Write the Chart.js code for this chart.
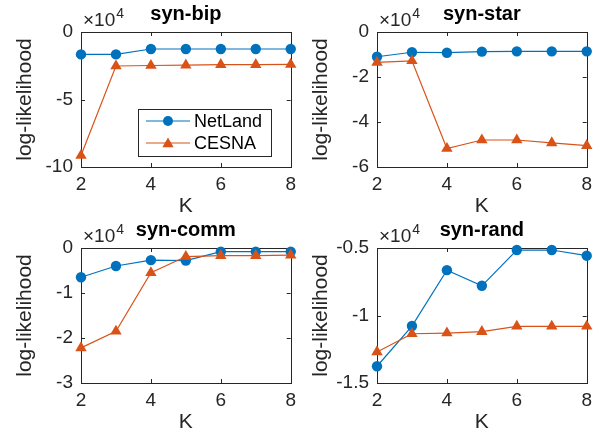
<!DOCTYPE html>
<html>
<head>
<meta charset="utf-8">
<script src="https://cdn.jsdelivr.net/npm/chart.js"></script>
<style>
  html, body { margin: 0; padding: 0; background: #ffffff; }
  #wrap { position: relative; width: 605px; height: 432px; background: #ffffff; overflow: hidden; }
  canvas { position: absolute; }
</style>
</head>
<body>
<div id="wrap">
  <canvas id="c1" width="302" height="216" style="left:0px;top:0px"></canvas>
  <canvas id="c2" width="302" height="216" style="left:296px;top:0px"></canvas>
  <canvas id="c3" width="302" height="216" style="left:0px;top:216px"></canvas>
  <canvas id="c4" width="302" height="216" style="left:296px;top:216px"></canvas>
</div>
<script>
// ---- data (log-likelihood values) ----
const K = [2, 3, 4, 5, 6, 7, 8];
const seriesNames = ['NetLand', 'CESNA'];
const panelTitles = ['syn-bip', 'syn-star', 'syn-comm', 'syn-rand'];

const bipNetLand  = [-16600, -16600, -12600, -12600, -12600, -12600, -12600];
const bipCESNA    = [-91500, -25200, -24800, -24600, -24200, -24200, -24000];

const starNetLand = [-11000, -9000, -9200, -8700, -8600, -8600, -8600];
const starCESNA   = [-13500, -12800, -51800, -48000, -48000, -49300, -50500];

const commNetLand = [-6500, -4000, -2700, -2800, -800, -800, -800];
const commCESNA   = [-22200, -18500, -5500, -1900, -1700, -1700, -1600];

const randNetLand = [-13760, -10780, -6640, -7800, -5150, -5150, -5570];
const randCESNA   = [-12700, -11350, -11300, -11200, -10800, -10800, -10800];

const xTicks = [2, 4, 6, 8];
const yTicksBip  = [0, -50000, -100000];
const yTicksStar = [0, -20000, -40000, -60000];
const yTicksComm = [0, -10000, -20000, -30000];
const yTicksRand = [-5000, -10000, -15000];

// ---- styling ----
const FONT = "'Liberation Sans', Arial, Helvetica, sans-serif";
const AXC = '#262626';
const BLUE = '#0072BD';
const ORANGE = '#D95319';

function fmtTick(v) {
  const t = Math.round(v / 1e4 * 100) / 100;
  return String(t);
}

function drawTri(ctx, x, y, r) {
  ctx.beginPath();
  let rad = 0;
  ctx.moveTo(x + Math.sin(rad) * r, y - Math.cos(rad) * r);
  rad += 2 * Math.PI / 3;
  ctx.lineTo(x + Math.sin(rad) * r, y - Math.cos(rad) * r);
  rad += 2 * Math.PI / 3;
  ctx.lineTo(x + Math.sin(rad) * r, y - Math.cos(rad) * r);
  ctx.closePath();
  ctx.fill();
}

const boxPlugin = {
  id: 'matlabBox',
  beforeDatasetsDraw(chart) {
    const ctx = chart.ctx;
    const a = chart.chartArea;
    const xs = chart.scales.x, ys = chart.scales.y;
    ctx.save();
    ctx.strokeStyle = AXC;
    ctx.lineWidth = 1;
    ctx.strokeRect(Math.round(a.left) + 0.5, Math.round(a.top) + 0.5,
                   Math.round(a.right - a.left), Math.round(a.bottom - a.top));
    const tl = 4;
    ctx.beginPath();
    xs.ticks.forEach(t => {
      const px = Math.round(xs.getPixelForValue(t.value)) + 0.5;
      ctx.moveTo(px, a.bottom); ctx.lineTo(px, a.bottom - tl);
      ctx.moveTo(px, a.top); ctx.lineTo(px, a.top + tl);
    });
    ys.ticks.forEach(t => {
      const py = Math.round(ys.getPixelForValue(t.value)) + 0.5;
      ctx.moveTo(a.left, py); ctx.lineTo(a.left + tl, py);
      ctx.moveTo(a.right, py); ctx.lineTo(a.right - tl, py);
    });
    ctx.stroke();
    ctx.restore();
  },
  afterDraw(chart, args, opts) {
    const ctx = chart.ctx;
    const a = chart.chartArea;
    ctx.save();
    // title
    ctx.fillStyle = '#000000';
    ctx.font = 'bold 20px ' + FONT;
    ctx.textAlign = 'center';
    ctx.textBaseline = 'alphabetic';
    ctx.fillText(opts.title, (a.left + a.right) / 2, 20);
    // exponent label
    ctx.fillStyle = AXC;
    ctx.font = '19px ' + FONT;
    ctx.textAlign = 'left';
    const base = '\u00D710';
    ctx.fillText(base, a.left + 2, 26);
    const w = ctx.measureText(base).width;
    ctx.font = '14px ' + FONT;
    ctx.fillText('4', a.left + 2 + w + 1, 18);
    // legend
    if (opts.legend) {
      const L = opts.legend;
      ctx.fillStyle = '#ffffff';
      ctx.fillRect(L.x, L.y, L.w, L.h);
      ctx.strokeStyle = AXC;
      ctx.lineWidth = 1;
      ctx.strokeRect(L.x + 0.5, L.y + 0.5, L.w, L.h);
      const rows = [
        {name: seriesNames[0], color: BLUE, shape: 'circle'},
        {name: seriesNames[1], color: ORANGE, shape: 'triangle'}
      ];
      rows.forEach((r, i) => {
        const y = L.y + 12 + i * 22;
        ctx.strokeStyle = r.color;
        ctx.lineWidth = 1.2;
        ctx.beginPath();
        ctx.moveTo(L.x + 8, y); ctx.lineTo(L.x + 52, y);
        ctx.stroke();
        ctx.fillStyle = r.color;
        const cx = L.x + 30;
        if (r.shape === 'circle') {
          ctx.beginPath(); ctx.arc(cx, y, 5, 0, Math.PI * 2); ctx.fill();
        } else {
          drawTri(ctx, cx, y + 1, 6.5);
        }
        ctx.fillStyle = '#000000';
        ctx.font = '18px ' + FONT;
        ctx.textAlign = 'left';
        ctx.textBaseline = 'middle';
        ctx.fillText(r.name, L.x + 56, y + 1);
      });
    }
    ctx.restore();
  }
};

function makeChart(id, title, netland, cesna, yTicks, legend) {
  const yMin = Math.min(...yTicks), yMax = Math.max(...yTicks);
  return new Chart(document.getElementById(id), {
    type: 'line',
    data: {
      datasets: [
        {
          label: seriesNames[0],
          data: K.map((k, i) => ({x: k, y: netland[i]})),
          borderColor: BLUE, backgroundColor: BLUE,
          pointBackgroundColor: BLUE, pointBorderColor: BLUE,
          pointStyle: 'circle', pointRadius: 5.2, pointBorderWidth: 0,
          borderWidth: 1.2, tension: 0, clip: false, order: 1
        },
        {
          label: seriesNames[1],
          data: K.map((k, i) => ({x: k, y: cesna[i]})),
          borderColor: ORANGE, backgroundColor: ORANGE,
          pointBackgroundColor: ORANGE, pointBorderColor: ORANGE,
          pointStyle: 'triangle', pointRadius: 6.6, pointBorderWidth: 0,
          borderWidth: 1.2, tension: 0, clip: false, order: 0
        }
      ]
    },
    options: {
      responsive: false,
      animation: false,
      devicePixelRatio: 1,
      layout: { padding: { top: 32, right: 8, left: 0, bottom: 0 } },
      plugins: {
        legend: { display: false },
        tooltip: { enabled: false },
        matlabBox: { title: title, legend: legend }
      },
      scales: {
        x: {
          type: 'linear', min: Math.min(...xTicks), max: Math.max(...xTicks),
          afterBuildTicks: s => { s.ticks = xTicks.map(v => ({value: v})); },
          ticks: { color: AXC, font: { family: FONT, size: 19 }, padding: 6, maxRotation: 0, autoSkip: false },
          grid: { display: false, drawTicks: false },
          border: { display: false },
          title: { display: true, text: 'K', color: AXC, font: { family: FONT, size: 21 }, padding: { top: 0, bottom: -3 } },
          afterFit: s => { s.height = 49; }
        },
        y: {
          type: 'linear', min: yMin, max: yMax,
          afterBuildTicks: s => { s.ticks = yTicks.map(v => ({value: v})); },
          ticks: { color: AXC, font: { family: FONT, size: 19 }, padding: 8, autoSkip: false, callback: v => fmtTick(v) },
          grid: { display: false, drawTicks: false },
          border: { display: false },
          title: { display: true, text: 'log-likelihood', color: AXC, font: { family: FONT, size: 21 }, padding: { top: 13, bottom: 0 } },
          afterFit: s => { s.width = 81; }
        }
      }
    },
    plugins: [boxPlugin]
  });
}

makeChart('c1', panelTitles[0], bipNetLand, bipCESNA, yTicksBip, {x: 138, y: 109, w: 133, h: 47});
makeChart('c2', panelTitles[1], starNetLand, starCESNA, yTicksStar, null);
makeChart('c3', panelTitles[2], commNetLand, commCESNA, yTicksComm, null);
makeChart('c4', panelTitles[3], randNetLand, randCESNA, yTicksRand, null);
</script>
</body>
</html>
